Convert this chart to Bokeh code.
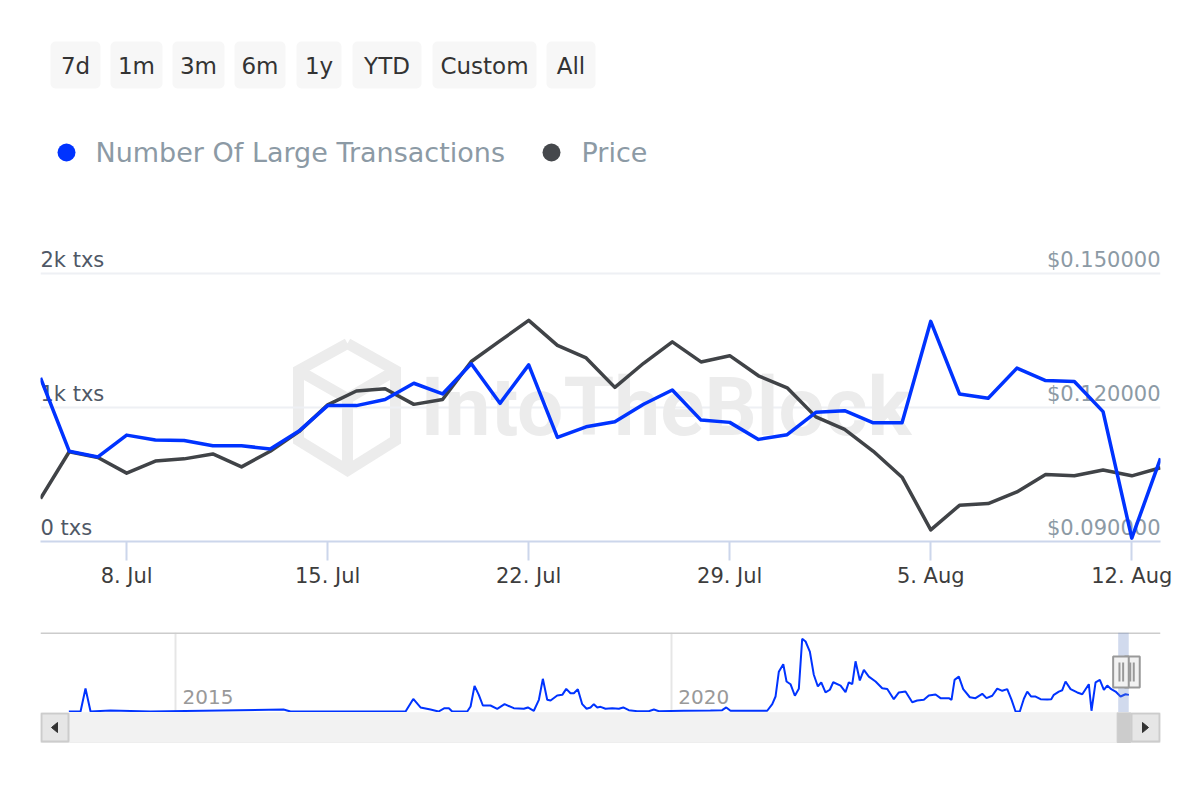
import pandas as pd
from bokeh.plotting import figure
from bokeh.layouts import column
from bokeh.models import (Range1d, FixedTicker, CustomJSTickFormatter, Label,
                          BoxAnnotation, Span)
from bokeh.core.properties import value
from bokeh.embed import file_html
from bokeh.resources import INLINE

# ---------------- data ----------------
start_date = "2024-07-05"
n_days = 40
large_tx = [1221, 674, 631, 794, 757, 754, 714, 714, 691, 824,
            1014, 1014, 1060, 1181, 1101, 1326, 1031, 1318, 777, 856,
            894, 1024, 1131, 906, 889, 762, 797,
            964, 976, 886, 886, 1643, 1101, 1069, 1294, 1201, 1194, 969, 25, 620]
price = [0.0996, 0.1101, 0.1088, 0.1053, 0.1080, 0.1085, 0.1096, 0.1067, 0.1102, 0.1146,
         0.1206, 0.1237, 0.1242, 0.1207, 0.1218, 0.1303, 0.1349, 0.1395, 0.1339, 0.1311,
         0.1245, 0.1299, 0.1347, 0.1302, 0.1316, 0.1271, 0.1244,
         0.1179, 0.1151, 0.1102, 0.1044, 0.0926, 0.0981, 0.0985, 0.1011, 0.1050, 0.1047,
         0.1060, 0.1047, 0.1065]
x_tick_dates = ["2024-07-08", "2024-07-15", "2024-07-22", "2024-07-29", "2024-08-05", "2024-08-12"]
x_tick_labels = ["8. Jul", "15. Jul", "22. Jul", "29. Jul", "5. Aug", "12. Aug"]
tx_ticks = [0, 1000, 2000]
tx_tick_labels = ["0 txs", "1k txs", "2k txs"]
price_ticks = [0.09, 0.12, 0.15]
price_tick_labels = ["$0.090000", "$0.120000", "$0.150000"]
series_names = ["Number Of Large Transactions", "Price"]
range_buttons = ["7d", "1m", "3m", "6m", "1y", "YTD", "Custom", "All"]

nav_years = [2013.924, 2014.042, 2014.092, 2014.143, 2014.344, 2014.748, 2016.089, 2016.160,
             2017.320, 2017.398, 2017.471, 2017.572, 2017.653, 2017.713, 2017.757, 2017.791,
             2017.942, 2017.976, 2018.016, 2018.059, 2018.100, 2018.177, 2018.245, 2018.319,
             2018.412, 2018.513, 2018.554, 2018.614, 2018.665, 2018.705, 2018.749, 2018.783,
             2018.850, 2018.901, 2018.941, 2018.984, 2019.018, 2019.058, 2019.102, 2019.146,
             2019.186, 2019.219, 2019.254, 2019.287, 2019.337, 2019.405, 2019.472, 2019.516,
             2019.572, 2019.657, 2019.774, 2019.825, 2019.875, 2020.127, 2020.396, 2020.514,
             2020.555, 2020.598, 2020.968, 2021.019, 2021.052, 2021.085, 2021.130, 2021.163,
             2021.203, 2021.247, 2021.287, 2021.321, 2021.355, 2021.398, 2021.438, 2021.479,
             2021.513, 2021.556, 2021.600, 2021.634, 2021.708, 2021.758, 2021.791, 2021.826,
             2021.859, 2021.902, 2021.943, 2021.993, 2022.061, 2022.128, 2022.179, 2022.245,
             2022.296, 2022.363, 2022.431, 2022.481, 2022.548, 2022.598, 2022.666, 2022.716,
             2022.800, 2022.827, 2022.858, 2022.901, 2022.945, 2023.012, 2023.069, 2023.137,
             2023.180, 2023.238, 2023.288, 2023.339, 2023.389, 2023.433, 2023.473, 2023.516,
             2023.557, 2023.591, 2023.631, 2023.675, 2023.725, 2023.793, 2023.833, 2023.859,
             2023.910, 2023.944, 2023.977, 2024.028, 2024.095, 2024.146, 2024.212, 2024.239,
             2024.280, 2024.323, 2024.364, 2024.398, 2024.438, 2024.482, 2024.532, 2024.582,
             2024.616]
nav_tx = [0, 0, 1530, 0, 70, 0, 130, 0,
          0, 840, 270, 130, 0, 220, 220, 0,
          0, 330, 1710, 1110, 400, 400, 180, 490,
          220, 180, 270, 50, 780, 2180, 780, 730,
          1070, 1110, 1510, 1220, 1220, 1490, 490, 180,
          270, 490, 270, 310, 180, 220, 180, 270,
          90, 20, 20, 130, 20, 50, 70, 90,
          270, 50, 50, 490, 1000, 2650, 3150, 2000,
          1820, 1050, 1510, 4850, 4670, 4000, 2450, 1670,
          1950, 1270, 1450, 1950, 1730, 1290, 1950, 1820,
          3350, 2070, 2780, 2330, 2000, 1550, 1500, 820,
          1270, 1330, 620, 730, 780, 1070, 1130, 890,
          890, 780, 2110, 2330, 1490, 950, 890, 1180,
          890, 1050, 1530, 1380, 1490, 780, 0, 0,
          850, 1330, 1000, 1000, 820, 800, 820, 1110,
          1330, 1420, 2000, 1490, 1270, 1150, 1820, 50,
          1950, 2110, 1450, 1730, 1490, 1330, 1000, 1150,
          1110]
nav_ticks = [2015, 2020]
nav_tick_labels = ["2015", "2020"]

# ---------------- style ----------------
FONT = "DejaVu Sans"
BLUE = "#0033ff"
GREY = "#404347"
COMMON = dict(output_backend="svg", toolbar_location=None, title=None,
              min_border_left=40, min_border_right=40)

dates = pd.date_range(start_date, periods=n_days, freq="D")
tick_ms = [float(pd.Timestamp(d).value // 10**6) for d in x_tick_dates]

# ---------------- header (range buttons + legend), pixel frame 40..1160 ----------------
hdr = figure(width=1200, height=200, x_range=Range1d(40, 1160), y_range=Range1d(200, 0),
             x_axis_location=None, y_axis_location=None, min_border_top=0, min_border_bottom=0,
             **COMMON)
hdr.grid.visible = False
hdr.outline_line_color = None
btn_left = [50, 110, 172, 234, 296, 352, 432, 546]
btn_right = [100, 162, 224, 285, 341, 421, 536, 595]
for l, r in zip(btn_left, btn_right):
    hdr.add_layout(BoxAnnotation(left=l, right=r, top=41, bottom=88, fill_color="#f7f7f7",
                                 fill_alpha=1, line_color=None, border_radius=5, level="underlay"))
hdr.text(x=[(l + r) / 2 for l, r in zip(btn_left, btn_right)], y=[65] * len(range_buttons),
         text=range_buttons, text_align="center", text_baseline="middle",
         text_font=value(FONT), text_font_size="23px", text_color="#333333")
hdr.scatter(x=[66, 551], y=[152, 152], size=18, fill_color=[BLUE, "#45484c"], line_color=None)
hdr.text(x=[95, 581], y=[152, 152], text=series_names, text_align="left", text_baseline="middle",
         text_font=value(FONT), text_font_size="27px", text_color="#8c9aa5")

# ---------------- main chart ----------------
y_top = 2000 + 33 / 134 * 1000
p_top = 0.15 + 33 / 134 * 0.03
main = figure(width=1200, height=400, x_axis_type="datetime", y_axis_location=None,
              x_range=Range1d(dates[0], dates[-1]), y_range=Range1d(0, y_top),
              min_border_top=40, min_border_bottom=59, **COMMON)
main.extra_y_ranges = {"price": Range1d(0.09, p_top)}
main.outline_line_color = None
main.xgrid.visible = False
main.ygrid.ticker = FixedTicker(ticks=tx_ticks[1:])
main.ygrid.grid_line_color = "#eef0f4"
main.ygrid.grid_line_width = 2

ax = main.xaxis[0]
ax.ticker = FixedTicker(ticks=tick_ms)
ax.formatter = CustomJSTickFormatter(args=dict(tvals=tick_ms, tlabels=x_tick_labels), code="""
    for (let i = 0; i < tvals.length; i++) { if (Math.abs(tvals[i] - tick) < 1) return tlabels[i]; }
    return '';
""")
ax.axis_line_color = "#ccd6eb"
ax.axis_line_width = 2
ax.major_tick_line_color = "#ccd6eb"
ax.major_tick_line_width = 2
ax.major_tick_out = 19
ax.major_tick_in = 0
ax.minor_tick_line_color = None
ax.major_label_standoff = 3
ax.major_label_text_font = FONT
ax.major_label_text_font_size = "21px"
ax.major_label_text_color = "#3d3d3d"

# watermark (decoration)
x0 = pd.Timestamp(dates[0]).value
x1 = pd.Timestamp(dates[-1]).value
def mx(px):
    return pd.Timestamp(x0 + (px - 40) / 1120 * (x1 - x0))
def my(py):
    return (541 - py) / 134 * 1000
WM = "#ececec"
hexv = [(347, 343), (395, 370), (395, 440), (347, 470), (298, 440), (298, 370), (347, 343)]
main.line([mx(a) for a, b in hexv], [my(b) for a, b in hexv], line_color=WM,
          line_width=11, line_join="miter", level="underlay")
cube = [(298, 370), (347, 398), (395, 370)]
main.line([mx(a) for a, b in cube], [my(b) for a, b in cube], line_color=WM,
          line_width=11, level="underlay")
main.line([mx(347), mx(347)], [my(398), my(470)], line_color=WM, line_width=11,
          level="underlay")
main.add_layout(Label(x=380, y=135, x_units="screen", y_units="screen", text="IntoTheBlock",
                      text_font="Roboto", text_font_style="bold", text_font_size="82px",
                      text_color=WM, text_baseline="middle", level="underlay"))

# axis labels inside the plot (text centre 13-14 px above each gridline)
main.text(x=[dates[0]] * 3, y=tx_ticks, text=tx_tick_labels, text_align="left",
          text_baseline="middle", y_offset=-14, text_font=value(FONT),
          text_font_size="21px", text_color="#4f5866")
main.text(x=[dates[-1]] * 3, y=price_ticks, text=price_tick_labels, text_align="right",
          text_baseline="middle", y_offset=-14, text_font=value(FONT),
          text_font_size="21px", text_color="#8c9aa5", y_range_name="price")

main.line(dates, price, y_range_name="price", line_color=GREY, line_width=3.5, line_join="round")
main.line(dates, large_tx, line_color=BLUE, line_width=3.5, line_join="round")

# ---------------- navigator ----------------
nav_x0, nav_x1 = 2013.638, 2024.935
nav_y0, nav_y1 = -66.7, 5270
nav = figure(width=1200, height=112, x_range=Range1d(nav_x0, nav_x1), y_range=Range1d(nav_y0, nav_y1),
             x_axis_location=None, y_axis_location=None,
             min_border_top=32, min_border_bottom=0, **COMMON)
nav.outline_line_color = None
nav.ygrid.visible = False
nav.xgrid.ticker = FixedTicker(ticks=nav_ticks)
nav.xgrid.grid_line_color = "#e6e6e6"
nav.xgrid.grid_line_width = 2
nav.add_layout(Span(location=nav_y1, dimension="width", line_color="#cccccc", line_width=3))
nav.text(x=nav_ticks, y=[0, 0], text=nav_tick_labels, text_align="left", text_baseline="middle",
         x_offset=7, y_offset=-15, text_font=value(FONT), text_font_size="20px", text_color="#999999")
nav.line(nav_years, nav_tx, line_color=BLUE, line_width=2)

def dec_year(ts):
    ts = pd.Timestamp(ts)
    days = 366 if ts.is_leap_year else 365
    return ts.year + (ts.dayofyear - 1) / days
sel0, sel1 = dec_year(dates[0]), dec_year(dates[-1])
ppy = 1120 / (nav_x1 - nav_x0)
def npx(yr):
    return 40 + (yr - nav_x0) * ppy
def nyr(px):
    return nav_x0 + (px - 40) / ppy
def ny(py):
    return nav_y1 - (py - 632) * (nav_y1 - nav_y0) / 80

nav.add_layout(BoxAnnotation(left=sel0, right=sel1, fill_color="#6685c2", fill_alpha=0.3,
                             line_color=None))
e = npx(sel1)
for l, r, grips in [(e - 4, e + 11, [e + 1.5, e + 5]), (e - 15.6, e, [e - 9.3, e - 5.6])]:
    nav.quad(left=[nyr(l)], right=[nyr(r)], top=[ny(656)], bottom=[ny(687)],
             fill_color="#f2f2f2", line_color="#999999", line_width=2, level="overlay")
    nav.segment(x0=[nyr(g) for g in grips], x1=[nyr(g) for g in grips],
                y0=[ny(662)] * 2, y1=[ny(681)] * 2, line_color="#999999", line_width=2,
                level="overlay")

# ---------------- scrollbar, pixel frame 40..1160 ----------------
sc = figure(width=1200, height=88, x_range=Range1d(40, 1160), y_range=Range1d(88, 0),
            x_axis_location=None, y_axis_location=None, min_border_top=0, min_border_bottom=0,
            **COMMON)
sc.grid.visible = False
sc.outline_line_color = None
sc.quad(left=[40], right=[1160], top=[0], bottom=[30], fill_color="#f2f2f2", line_color="#eeeeee")
sc.quad(left=[npx(sel0) - 1], right=[npx(sel1) + 2], top=[0], bottom=[30],
        fill_color="#cccccc", line_color="#cccccc")
sc.quad(left=[41, 1131], right=[68, 1159], top=[1, 1], bottom=[29, 29],
        fill_color="#e6e6e6", line_color="#cccccc", line_width=2)
sc.patches(xs=[[51, 57, 57], [1148, 1142, 1142]], ys=[[15, 10, 20], [15, 10, 20]],
           fill_color="#333333", line_color="#333333")

layout = column(hdr, main, nav, sc, spacing=0)
with open("out.html", "w") as f:
    f.write(file_html(layout, INLINE))
